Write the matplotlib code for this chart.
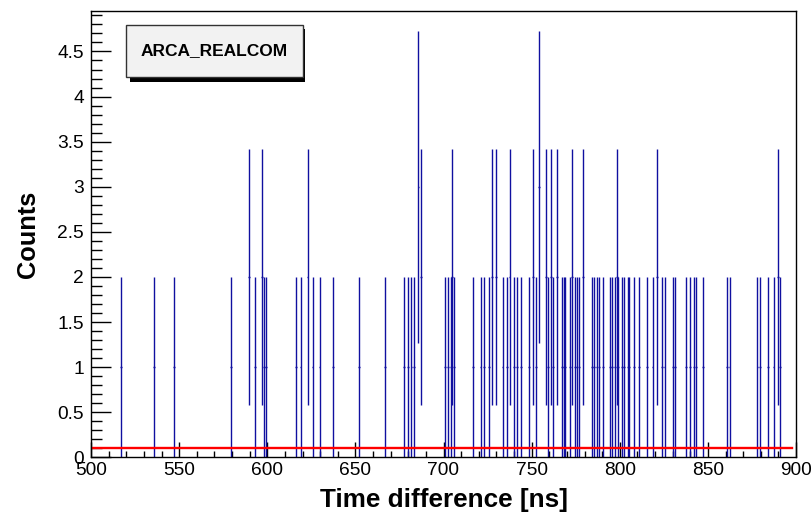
import numpy as np
import matplotlib.pyplot as plt
from matplotlib.patches import Rectangle
from matplotlib.ticker import MultipleLocator

plt.rcParams['font.family'] = ['Liberation Sans', 'DejaVu Sans']

# bins with 1 entry (ns)
t_one = [516.9, 535.6, 547.2, 579.5, 593.2, 598.2, 599.2, 616.3, 618.9, 625.7,
         629.7, 637.1, 652.1, 667.0, 677.8, 679.9, 681.8, 683.1, 700.8, 702.7,
         704.0, 705.9, 716.7, 721.0, 722.9, 726.0, 733.5, 736.0, 739.8, 741.9,
         744.1, 748.5, 752.3, 759.3, 762.0, 767.2, 768.2, 769.1, 771.6, 774.4,
         775.7, 777.1, 784.3, 785.4, 787.1, 788.5, 790.3, 794.3, 795.6, 797.2,
         799.2, 801.1, 802.4, 804.4, 805.1, 808.1, 811.0, 815.3, 818.6, 823.9,
         825.4, 830.1, 831.4, 837.5, 839.9, 842.2, 843.5, 847.1, 860.8, 862.3,
         878.1, 879.5, 884.1, 887.3, 891.0]
# bins with 2 entries
t_two = [589.6, 597.2, 622.9, 687.3, 704.9, 727.7, 729.7, 737.5, 750.7, 758.2,
         760.8, 764.3, 773.1, 779.3, 798.3, 821.0, 889.8]
# bins with 3 entries
t_three = [685.8, 754.3]

fit_level = 0.104
fit_range = [500, 898]

times = np.array(t_one + t_two + t_three)
counts = np.array([1] * len(t_one) + [2] * len(t_two) + [3] * len(t_three))

W, H = 811, 519
fig = plt.figure(figsize=(W / 100, H / 100), dpi=100)
fig.patch.set_facecolor('white')
ax = fig.add_axes([91 / W, 1 - 457.4 / H, (796 - 91) / W, (457.4 - 10.7) / H])

ax.errorbar(times, counts, yerr=np.sqrt(counts), xerr=0.5, fmt='none',
            ecolor='#1010a0', elinewidth=1.0, capsize=0)
ax.plot(fit_range, [fit_level, fit_level], color='#ff0000', lw=1.7)

ax.set_xlim(500, 900)
ax.set_ylim(0, 4.952)
ax.xaxis.set_major_locator(MultipleLocator(50))
ax.xaxis.set_minor_locator(MultipleLocator(10))
ax.yaxis.set_major_locator(MultipleLocator(0.5))
ax.yaxis.set_minor_locator(MultipleLocator(0.1))
ax.yaxis.set_major_formatter(plt.FuncFormatter(lambda v, p: f'{v:g}'))

ax.tick_params(axis='both', which='both', direction='in', top=False, right=False,
               width=1, labelsize=13.8, color='black')
ax.tick_params(axis='y', which='major', length=14.4, pad=5)
ax.tick_params(axis='y', which='minor', length=7.9)
ax.tick_params(axis='x', which='major', length=10.6, pad=3)
ax.tick_params(axis='x', which='minor', length=4.3)
for s in ax.spines.values():
    s.set_linewidth(1)

ax.set_xlabel('Time difference [ns]', fontsize=18.8, fontweight='bold')
ax.set_ylabel('Counts', fontsize=18.3, fontweight='bold')
ax.xaxis.set_label_coords(0.5, -0.068)
ax.yaxis.set_label_coords(-0.072, 0.5)

# legend box with shadow
def fx(px):
    return px / W

def fy(py):
    return 1 - py / H

fig.patches.append(Rectangle((fx(130), fy(81.5)), fx(305) - fx(130), fy(29) - fy(81.5),
                             transform=fig.transFigure, facecolor='black',
                             edgecolor='none', zorder=5))
fig.patches.append(Rectangle((fx(126), fy(77)), fx(302.5) - fx(126), fy(25) - fy(77),
                             transform=fig.transFigure, facecolor='#f2f2f2',
                             edgecolor='#333333', lw=1, zorder=6))
fig.text(fx(214), fy(51), 'ARCA_REALCOM', fontsize=12.5, fontweight='bold',
         ha='center', va='center', zorder=7)

fig.savefig('out.png', dpi=100)
